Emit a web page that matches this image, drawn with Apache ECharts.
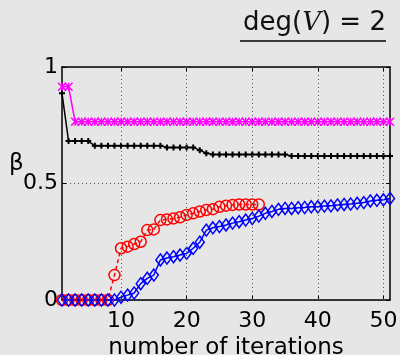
<!DOCTYPE html>
<html>
<head>
<meta charset="utf-8">
<script src="https://cdn.jsdelivr.net/npm/echarts@6/dist/echarts.min.js"></script>
<style>
  html, body { margin: 0; padding: 0; background: #e6e6e6; }
  #myChart { width: 400px; height: 355px; }
</style>
</head>
<body>
<div id="myChart"></div>
<script>
const xTicks = [10, 20, 30, 40, 50];

const magentaVals = [0.915, 0.915,
    0.765, 0.765, 0.765, 0.765, 0.765, 0.765, 0.765, 0.765, 0.765, 0.765,
    0.765, 0.765, 0.765, 0.765, 0.765, 0.765, 0.765, 0.765, 0.765, 0.765,
    0.765, 0.765, 0.765, 0.765, 0.765, 0.765, 0.765, 0.765, 0.765, 0.765,
    0.765, 0.765, 0.765, 0.765, 0.765, 0.765, 0.765, 0.765, 0.765, 0.765,
    0.765, 0.765, 0.765, 0.765, 0.765, 0.765, 0.765, 0.765, 0.765];

const blackVals = [0.887, 0.682, 0.682, 0.682, 0.682,
    0.662, 0.662, 0.662, 0.662, 0.662, 0.662, 0.662, 0.662, 0.662, 0.662, 0.662,
    0.655, 0.655, 0.655, 0.655, 0.655, 0.643, 0.630,
    0.625, 0.625, 0.625, 0.625, 0.625, 0.625, 0.625, 0.625, 0.625, 0.625, 0.625, 0.625,
    0.618, 0.618, 0.618, 0.618, 0.618, 0.618, 0.618, 0.618,
    0.618, 0.618, 0.618, 0.618, 0.618, 0.618, 0.618, 0.618];

const redVals = [0, 0, 0, 0, 0, 0, 0, 0,
    0.107, 0.222, 0.229, 0.240, 0.250, 0.300, 0.303, 0.343, 0.346, 0.350,
    0.355, 0.365, 0.372, 0.380, 0.386, 0.390, 0.400, 0.405, 0.408, 0.410,
    0.410, 0.410, 0.410];

const blueVals = [0, 0, 0, 0, 0, 0, 0, 0, 0,
    0.012, 0.021, 0.030, 0.070, 0.093, 0.107, 0.172, 0.180, 0.186, 0.193,
    0.200, 0.222, 0.248, 0.300, 0.310, 0.315, 0.322, 0.330, 0.336, 0.343,
    0.350, 0.360, 0.372, 0.380, 0.389, 0.393, 0.393, 0.396, 0.397, 0.400,
    0.400, 0.403, 0.404, 0.408, 0.410, 0.412, 0.415, 0.418, 0.425, 0.428,
    0.430, 0.436];

const toPairs = (vals) => vals.map((v, k) => [k + 1, v]);

const font = "'DejaVu Sans', sans-serif";

const graphElem = document.getElementById("myChart");
const myChart = echarts.init(graphElem, null, { width: 400, height: 355 });

const crossPath = "path://M0,0L10,10M10,0L0,10M5,0L5,10";
const plusPath = "path://M0,5L10,5M5,0L5,10";

const options = {
    backgroundColor: "#e6e6e6",
    animation: false,
    title: {
        text: "{a|deg(}{b|V}{a|) = 2}",
        left: 238,
        top: 5,
        textStyle: {
            fontWeight: "normal",
            rich: {
                a: { fontFamily: font, fontWeight: "normal", fontSize: 26, color: "#111" },
                b: { fontFamily: "'DejaVu Serif', serif", fontWeight: "normal", fontStyle: "italic", fontSize: 26, color: "#111" },
            },
        },
    },
    graphic: [
        {
            type: "line",
            shape: { x1: 240, y1: 41, x2: 386, y2: 41 },
            style: { stroke: "#000", lineWidth: 1.5 },
        },
        {
            type: "text",
            left: 9,
            top: 153,
            style: { text: "β", fontFamily: font, fontSize: 23, fill: "#000" },
        },
    ],
    grid: { left: 62, right: 10, top: 67, bottom: 55, show: false, outerBoundsMode: "none", containLabel: false },
    xAxis: [
        {
            type: "value",
            min: 1,
            max: 51,
            name: "number of iterations",
            nameLocation: "middle",
            nameGap: 32,
            nameTextStyle: { fontFamily: font, fontSize: 23, color: "#000" },
            axisLine: { show: true, onZero: false, lineStyle: { color: "#000", width: 1.5 } },
            axisTick: { show: true, inside: true, length: 4, customValues: xTicks, lineStyle: { color: "#000" } },
            axisLabel: { customValues: xTicks, fontFamily: font, fontSize: 22, color: "#000", margin: 10 },
            splitLine: { show: false },
        },
        {
            type: "value",
            min: 1,
            max: 51,
            position: "top",
            axisLine: { show: true, onZero: false, lineStyle: { color: "#000", width: 1.5 } },
            axisTick: { show: true, inside: true, length: 4, customValues: xTicks, lineStyle: { color: "#000" } },
            axisLabel: { show: false },
            splitLine: { show: false },
        },
    ],
    yAxis: [
        {
            type: "value",
            min: 0,
            max: 1,
            interval: 0.5,
            axisLine: { show: true, lineStyle: { color: "#000", width: 1.5 } },
            axisTick: { show: true, inside: true, length: 4, lineStyle: { color: "#000" } },
            axisLabel: {
                fontFamily: font, fontSize: 22, color: "#000", margin: 4,
                formatter: (v) => (v === 0 ? "0" : v === 1 ? "1" : String(v)),
            },
            splitLine: { show: true, lineStyle: { color: "#555", type: [1, 3], width: 1 } },
        },
        {
            type: "value",
            min: 0,
            max: 1,
            interval: 0.5,
            position: "right",
            axisLine: { show: true, lineStyle: { color: "#000", width: 1.5 } },
            axisTick: { show: true, inside: true, length: 4, lineStyle: { color: "#000" } },
            axisLabel: { show: false },
            splitLine: { show: false },
        },
    ],
    series: [
        {
            type: "line",
            name: "grid",
            data: [],
            markLine: {
                silent: true,
                symbol: "none",
                label: { show: false },
                lineStyle: { color: "#555", type: [1, 3], width: 1 },
                data: xTicks.map((t) => ({ xAxis: t })),
            },
        },
        {
            type: "line",
            name: "black",
            data: toPairs(blackVals),
            symbol: plusPath,
            symbolSize: 6,
            lineStyle: { color: "#000", width: 1.5 },
            itemStyle: { color: "#000", borderColor: "#000", borderWidth: 2 },
        },
        {
            type: "line",
            name: "magenta",
            data: toPairs(magentaVals),
            symbol: crossPath,
            symbolSize: 8,
            lineStyle: { color: "#ff00ff", width: 1.5 },
            itemStyle: { color: "none", borderColor: "#ff00ff", borderWidth: 1.5 },
        },
        {
            type: "line",
            name: "red",
            data: toPairs(redVals),
            symbol: "circle",
            symbolSize: 11,
            lineStyle: { color: "#ff0000", width: 1.5, type: [4, 3] },
            itemStyle: { color: "none", borderColor: "#ff0000", borderWidth: 1.5 },
        },
        {
            type: "line",
            name: "blue",
            data: toPairs(blueVals),
            symbol: "diamond",
            symbolSize: [9, 12],
            lineStyle: { color: "#0000ff", width: 1.5 },
            itemStyle: { color: "none", borderColor: "#0000ff", borderWidth: 1.5 },
        },
    ],
};

myChart.setOption(options);
</script>
</body>
</html>
